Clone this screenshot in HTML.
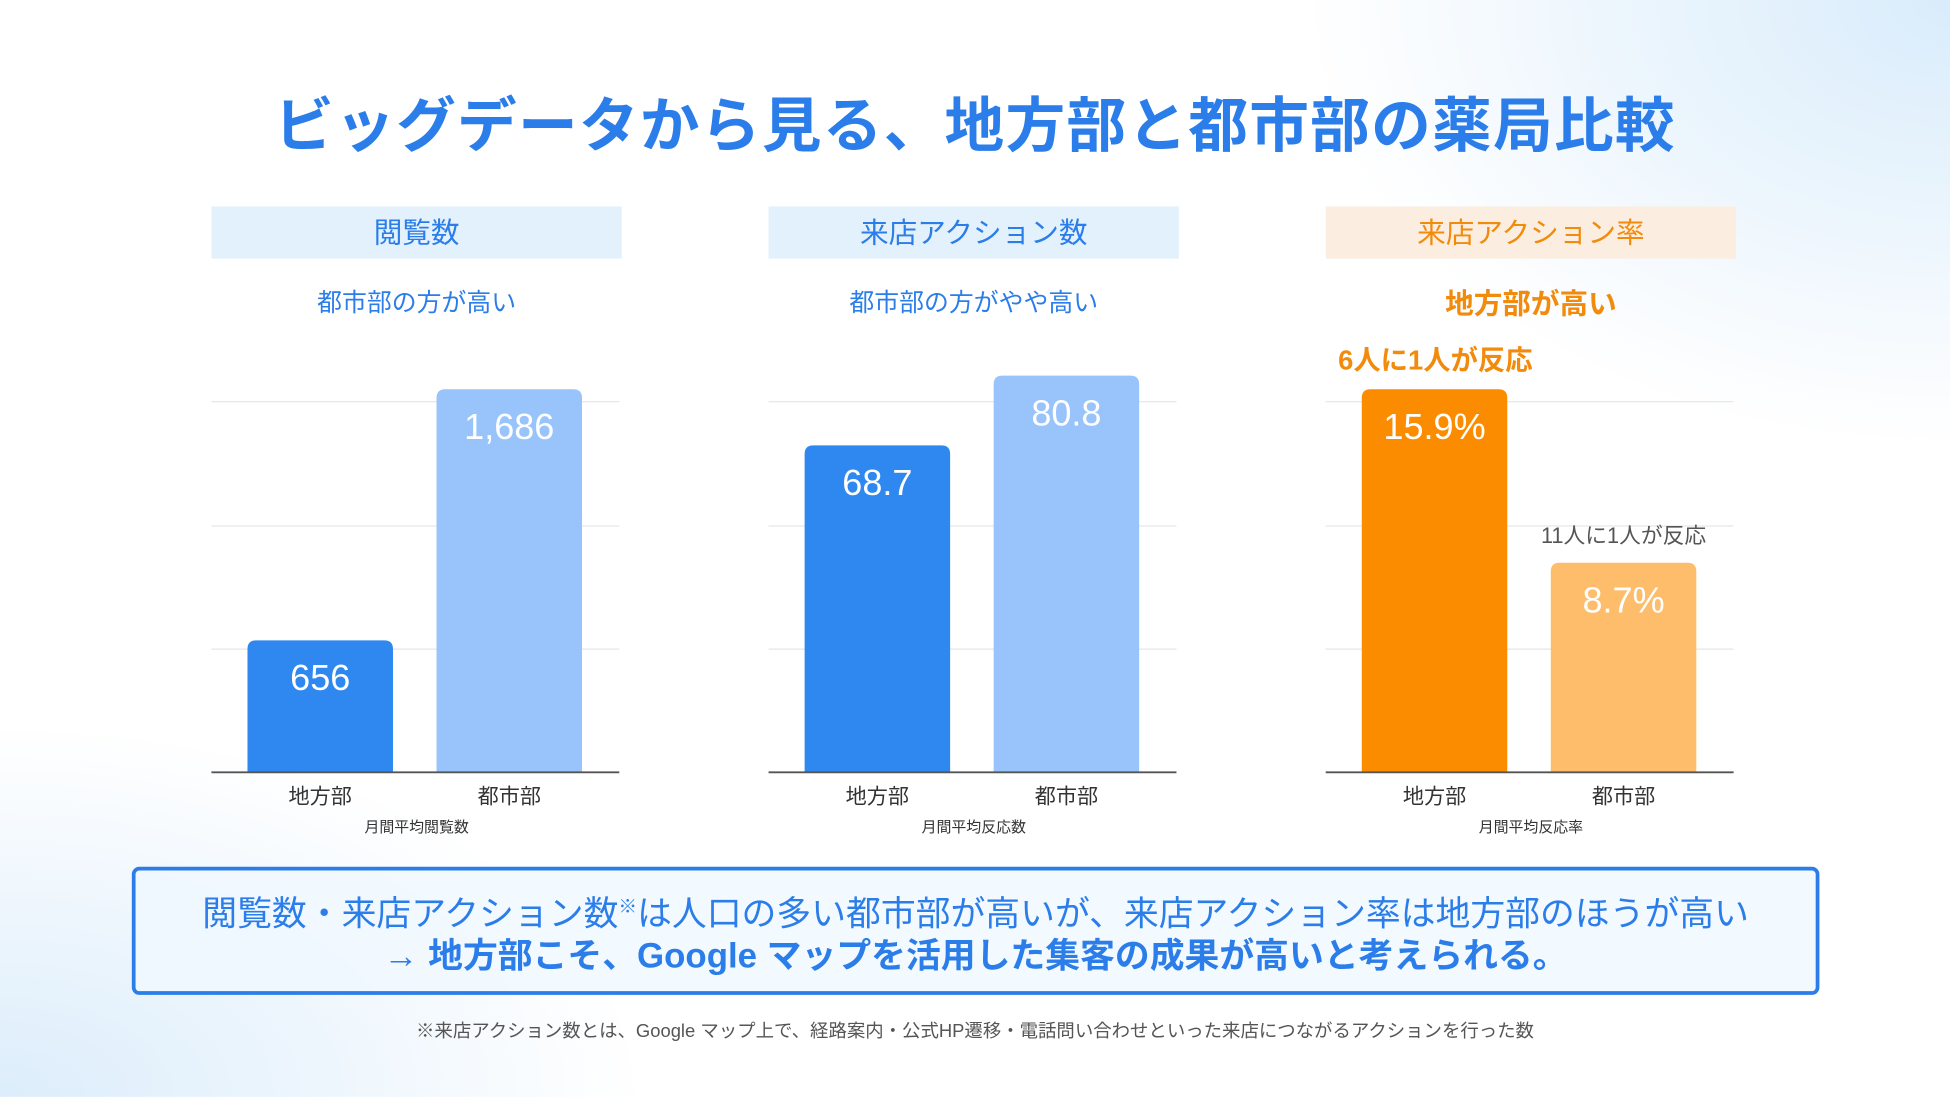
<!DOCTYPE html>
<html><head><meta charset="utf-8">
<style>
html,body{margin:0;padding:0;width:1950px;height:1097px;overflow:hidden;}
body{background:#fff;font-family:"Liberation Sans","Noto Sans CJK JP",sans-serif;}
#stage{position:absolute;left:0;top:0;width:1568px;height:882px;transform:scale(1.24362);transform-origin:0 0;
background:radial-gradient(ellipse 520px 360px at 1568px 0px,#d9ecfb 0%,rgba(217,236,251,0) 100%),
radial-gradient(ellipse 520px 300px at 0px 882px,#dcedfb 0%,rgba(220,237,251,0) 100%),#fff;}
.title{position:absolute;left:0;width:1568px;top:62px;text-align:center;font-size:48px;font-weight:bold;color:#2b7de9;letter-spacing:1px;}
.hdr{position:absolute;top:166px;width:330px;height:42px;line-height:42px;text-align:center;font-size:23px;}
.sub{position:absolute;top:227px;width:330px;text-align:center;font-size:20px;}
svg{position:absolute;left:0;top:0;}
.box{position:absolute;left:106px;top:697px;width:1351px;height:97px;border:3px solid #2b7de9;border-radius:6px;background:rgba(240,248,255,0.85);text-align:center;color:#2b7de9;}
.l1{font-size:28px;margin-top:13px;line-height:34px;}
.l2{font-size:28px;font-weight:bold;margin-top:0px;line-height:34px;}
.foot{position:absolute;left:0;width:1568px;top:818px;text-align:center;font-size:14.8px;color:#555;}
</style></head><body>
<div id="stage">
<div class="title">ビッグデータから見る、地方部と都市部の薬局比較</div>

<div class="hdr" style="left:170px;background:#e3f1fd;color:#2b7de9">閲覧数</div>
<div class="hdr" style="left:618px;background:#e3f1fd;color:#2b7de9">来店アクション数</div>
<div class="hdr" style="left:1066px;background:#fbeee0;color:#f28a0c">来店アクション率</div>

<div class="sub" style="left:170px;color:#2b7de9">都市部の方が高い</div>
<div class="sub" style="left:618px;color:#2b7de9">都市部の方がやや高い</div>
<div class="sub" style="left:1066px;color:#f28a0c;font-weight:bold;font-size:23px;top:225px">地方部が高い</div>

<svg id="charts" width="1568" height="882"></svg>

<div class="box">
<div class="l1">閲覧数・来店アクション数<sup style="font-size:15px">※</sup>は人口の多い都市部が高いが、来店アクション率は地方部のほうが高い</div>
<div class="l2">→ 地方部こそ、Google マップを活用した集客の成果が高いと考えられる。</div>
</div>
<div class="foot">※来店アクション数とは、Google マップ上で、経路案内・公式HP遷移・電話問い合わせといった来店につながるアクションを行った数</div>
</div>
<script>
const categories=["地方部","都市部"];
const viewsValues=[656,1686];
const viewsLabels=["656","1,686"];
const actionValues=[68.7,80.8];
const actionLabels=["68.7","80.8"];
const rateValues=[15.9,8.7];
const rateLabels=["15.9%","8.7%"];
const rateNotes=["6人に1人が反応","11人に1人が反応"];
const axisTitles=["月間平均閲覧数","月間平均反応数","月間平均反応率"];

const NS="http://www.w3.org/2000/svg";
const svg=document.getElementById('charts');
const baseY=621;
function mk(tag,attrs,parent){const e=document.createElementNS(NS,tag);for(const k in attrs)e.setAttribute(k,attrs[k]);(parent||svg).appendChild(e);return e;}
function panel(px,values,labels,colors,d0,refMax,refPx,idx,notes){
  const g=mk('g',{});
  
  
  const y=v=>baseY - (v-d0)/(refMax-d0)*refPx;
  [323,423,522].forEach(gy=>{const l=mk('line',{x1:px,x2:px+328,y1:gy,y2:gy,stroke:'#e3e6ea','stroke-width':1},g);
    
    });
  values.forEach((v,i)=>{
    const bx=px+29+i*152, top=y(v), w=117, h=baseY-top, r=7;
    const p=mk('path',{d:`M${bx},${baseY}V${top+r}Q${bx},${top} ${bx+r},${top}H${bx+w-r}Q${bx+w},${top} ${bx+w},${top+r}V${baseY}Z`,fill:colors[i]},g);
    
    
    const t=mk('text',{x:bx+w/2,y:top+40,'text-anchor':'middle',fill:'#fff','font-size':29,'font-family':'"Liberation Sans",sans-serif'},g);
    t.textContent=labels[i];
    
    
    const c=mk('text',{x:bx+w/2,y:646,'text-anchor':'middle',fill:'#333','font-size':17,'font-family':'"Liberation Sans","Noto Sans CJK JP",sans-serif'},g);
    c.textContent=categories[i];
    
    
    if(notes){
      const n=mk('text',{x:i===0?px+10:bx+w/2,y:top-16,'text-anchor':i===0?'start':'middle',fill:i===0?'#f28a0c':'#555','font-size':i===0?22:17.5,'font-weight':i===0?'bold':'normal','font-family':'"Liberation Sans","Noto Sans CJK JP",sans-serif'},g);
      n.textContent=notes[i];
      
      
    }
  });
  const b=mk('line',{x1:px,x2:px+328,y1:baseY,y2:baseY,stroke:'#555','stroke-width':1.5},g);
  
  
  const at=mk('text',{x:px+165,y:669,'text-anchor':'middle',fill:'#333','font-size':12,'font-family':'"Liberation Sans","Noto Sans CJK JP",sans-serif'},g);
  at.textContent=axisTitles[idx];
  
  
}
panel(170,viewsValues,viewsLabels,['#2f88f0','#98c4fb'],115,1686,308,0);
panel(618,actionValues,actionLabels,['#2f88f0','#98c4fb'],12,80.8,319,1);
panel(1066,rateValues,rateLabels,['#fb8c00','#fdbd6b'],0,15.9,308,2,rateNotes);
</script>
</body></html>
